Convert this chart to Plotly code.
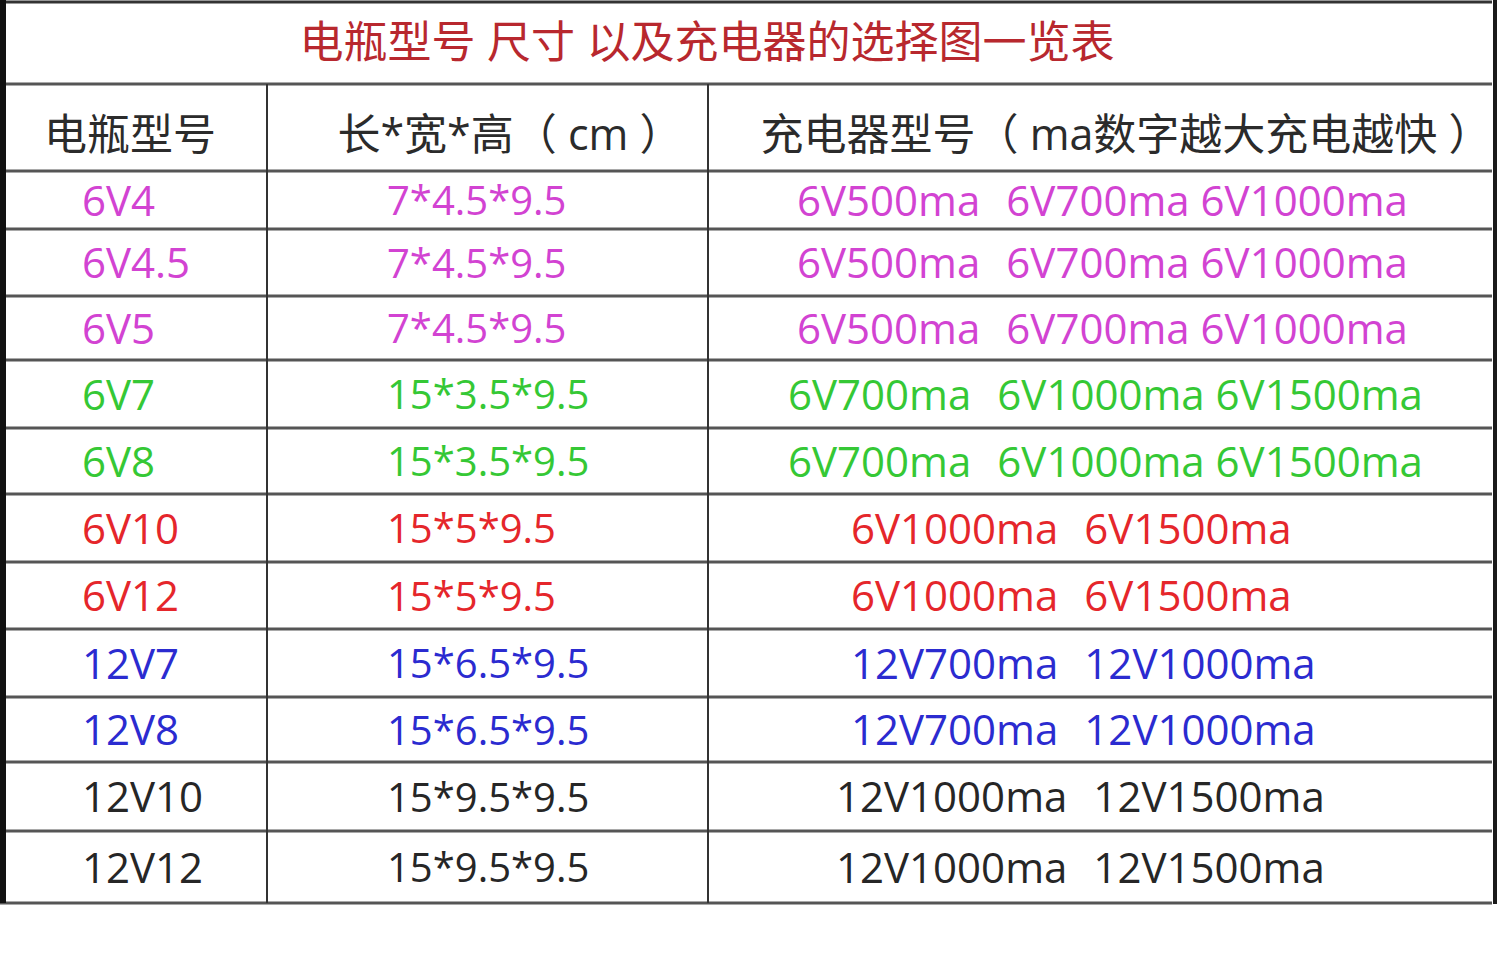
import plotly.graph_objects as go

# tabel: accu types, afmetingen en bijpassende laders
title = "电瓶型号 尺寸 以及充电器的选择图一览表"
headers = ["电瓶型号", "长*宽*高（ cm ）", "充电器型号（ ma数字越大充电越快 ）"]

models = ["6V4", "6V4.5", "6V5", "6V7", "6V8", "6V10", "6V12",
          "12V7", "12V8", "12V10", "12V12"]
sizes = ["7*4.5*9.5", "7*4.5*9.5", "7*4.5*9.5", "15*3.5*9.5", "15*3.5*9.5",
         "15*5*9.5", "15*5*9.5", "15*6.5*9.5", "15*6.5*9.5",
         "15*9.5*9.5", "15*9.5*9.5"]
chargers = [
    ["6V500ma", "6V700ma", "6V1000ma"],
    ["6V500ma", "6V700ma", "6V1000ma"],
    ["6V500ma", "6V700ma", "6V1000ma"],
    ["6V700ma", "6V1000ma", "6V1500ma"],
    ["6V700ma", "6V1000ma", "6V1500ma"],
    ["6V1000ma", "6V1500ma"],
    ["6V1000ma", "6V1500ma"],
    ["12V700ma", "12V1000ma"],
    ["12V700ma", "12V1000ma"],
    ["12V1000ma", "12V1500ma"],
    ["12V1000ma", "12V1500ma"],
]

# kleuren per groep
MAGENTA, GREEN, RED, BLUE, BLACK = "#d243d2", "#35c835", "#e5262b", "#2b2bd0", "#262626"
row_colors = [MAGENTA] * 3 + [GREEN] * 2 + [RED] * 2 + [BLUE] * 2 + [BLACK] * 2

# opmaak (pixels)
W, H = 1500, 975
row_edges = [2, 84, 171, 229, 296, 360, 428, 494, 562, 629, 697, 762, 831, 903]
col_edges = [5, 267, 708, 1493]
col1_x, col2_x = 82, 387
col3_x = [797, 797, 797, 788, 788, 851, 851, 851, 851, 836, 836]
FONT = "Open Sans, Noto Sans CJK SC, sans-serif"
NB = "\u00a0"


def join_chargers(items):
    # eerste tussenruimte is breder dan de rest
    out = items[0]
    for i, s in enumerate(items[1:]):
        out += (NB * 2 + "\u200a" if i == 0 else NB) + s
    return out


body_y = [(row_edges[i + 2] + row_edges[i + 3]) / 2 + 5 for i in range(len(models))]
charger_text = [join_chargers(c) for c in chargers]

fig = go.Figure()

fig.add_trace(go.Scatter(x=[col1_x] * len(models), y=body_y, text=models, mode="text",
                         textposition="middle right",
                         textfont=dict(family=FONT, size=42, color=row_colors)))
fig.add_trace(go.Scatter(x=[col2_x] * len(sizes), y=body_y, text=sizes, mode="text",
                         textposition="middle right",
                         textfont=dict(family=FONT, size=40, color=row_colors)))
fig.add_trace(go.Scatter(x=col3_x, y=body_y, text=charger_text, mode="text",
                         textposition="middle right",
                         textfont=dict(family=FONT, size=42, color=row_colors)))

# kop en titel
head_y = (row_edges[1] + row_edges[2]) / 2 + 12
fig.add_trace(go.Scatter(x=[130, 510, 1126], y=[head_y] * 3, text=headers, mode="text",
                         textposition="middle center",
                         textfont=dict(family=FONT, size=43, color="#2b2b2b")))
fig.add_trace(go.Scatter(x=[707], y=[(row_edges[0] + row_edges[1]) / 2 + 4], text=[title],
                         mode="text", textposition="middle center",
                         textfont=dict(family=FONT, size=44, color="#b8282e")))

# rasterlijnen
shapes = []
for i, y in enumerate(row_edges):
    shapes.append(dict(type="line", x0=0, x1=1492, y0=y, y1=y,
                       line=dict(color="#333333" if i == 0 else "#555555", width=3)))
for x in col_edges[1:3]:
    shapes.append(dict(type="line", x0=x, x1=x, y0=row_edges[1], y1=row_edges[-1],
                       line=dict(color="#333333", width=2)))
shapes.append(dict(type="line", x0=1495, x1=1495, y0=0, y1=row_edges[-1] + 1,
                   line=dict(color="#1a1a1a", width=4)))
shapes.append(dict(type="rect", x0=0, x1=6, y0=0, y1=row_edges[-1],
                   fillcolor="#111111", line=dict(width=0)))

fig.update_layout(
    width=W, height=H,
    margin=dict(l=0, r=0, t=0, b=0),
    paper_bgcolor="white", plot_bgcolor="white",
    showlegend=False,
    shapes=shapes,
    xaxis=dict(range=[0, W], visible=False, fixedrange=True),
    yaxis=dict(range=[H, 0], visible=False, fixedrange=True),
)

# body-marge van de pagina weghalen zodat de figuur op (0,0) begint
fig.write_html("out.html", config={"displayModeBar": False},
               post_script="document.body.style.margin='0px';")
